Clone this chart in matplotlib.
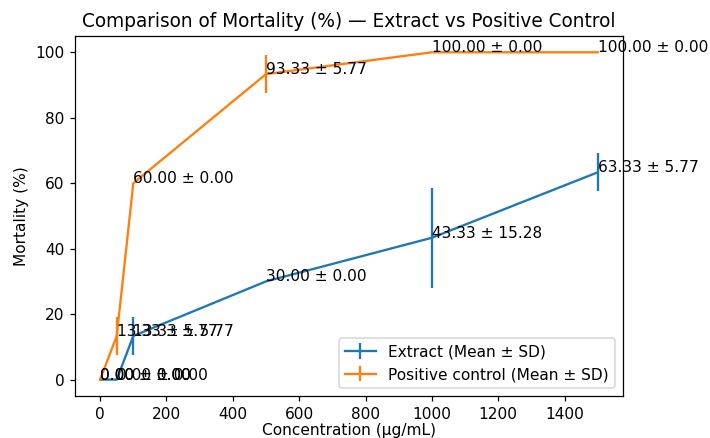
import numpy as np
import matplotlib
matplotlib.use("Agg")
import matplotlib.pyplot as plt

# concentrations (ug/mL) and mortality (%) mean / SD
conc = [0, 50, 100, 500, 1000, 1500]
extract_mean = [0.00, 0.00, 13.33, 30.00, 43.33, 63.33]
extract_sd = [0.00, 0.00, 5.77, 0.00, 15.28, 5.77]
control_mean = [0.00, 13.33, 60.00, 93.33, 100.00, 100.00]
control_sd = [0.00, 5.77, 0.00, 5.77, 0.00, 0.00]

DPI = 111
fig = plt.figure(figsize=(710 / DPI, 438 / DPI), dpi=DPI)
ax = fig.add_subplot(111)
fig.subplots_adjust(left=0.106, right=0.877, top=0.918, bottom=0.096)

ax.errorbar(conc, extract_mean, yerr=extract_sd, label="Extract (Mean ± SD)")
ax.errorbar(conc, control_mean, yerr=control_sd, label="Positive control (Mean ± SD)")

# annotate every point with mean ± sd
for x, m, s in zip(conc, extract_mean, extract_sd):
    ax.text(x, m, f"{m:.2f} ± {s:.2f}")
for x, m, s in zip(conc, control_mean, control_sd):
    ax.text(x, m, f"{m:.2f} ± {s:.2f}")

ax.set_title("Comparison of Mortality (%) — Extract vs Positive Control")
ax.set_xlabel("Concentration (µg/mL)", labelpad=1)
ax.set_ylabel("Mortality (%)")
ax.legend(loc="lower right")

fig.savefig("out.png", dpi=DPI)
